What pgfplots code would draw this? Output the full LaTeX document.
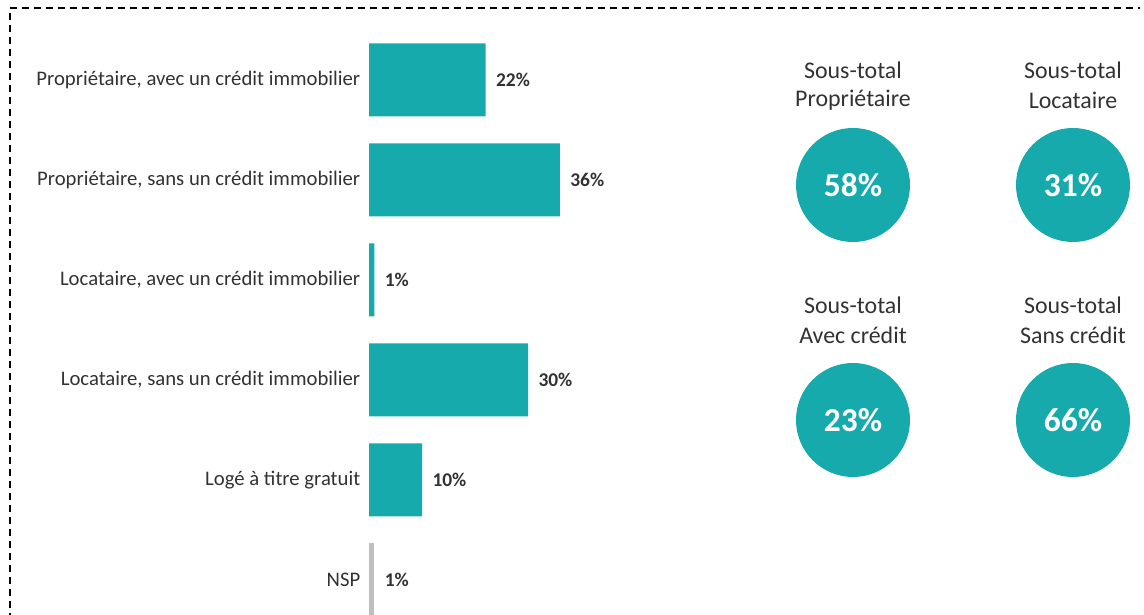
\documentclass[border=0pt]{standalone}
\usepackage{fontspec}
\setmainfont{Carlito}
\usepackage{pgfplots}
\pgfplotsset{compat=1.18}
\definecolor{tealbar}{RGB}{23,170,172}
\definecolor{nspgray}{RGB}{191,191,191}
\definecolor{labelgray}{RGB}{50,50,50}

\begin{document}
\begin{tikzpicture}[x=1bp,y=1bp]
  \useasboundingbox (0,0) rectangle (1144,615);
  % dashed frame (top and left visible)
  \draw[line width=1.3bp, dash pattern=on 7bp off 5bp] (10,-5) -- (10,607) -- (1140,607);

  \begin{axis}[
    at={(369bp,585bp)}, anchor=north west,
    scale only axis, width=530bp, height=600bp,
    xbar, bar width=73bp, bar shift=0pt,
    xmin=0, xmax=100, ymin=-0.5, ymax=5.5, y dir=reverse,
    axis line style={draw=none}, tick style={draw=none},
    xtick=\empty, ytick={0,...,5},
    yticklabels={{Propriétaire, avec un crédit immobilier},
                 {Propriétaire, sans un crédit immobilier},
                 {Locataire, avec un crédit immobilier},
                 {Locataire, sans un crédit immobilier},
                 {Logé à titre gratuit}, {NSP}},
    yticklabel style={font=\fontsize{20.8}{24}\selectfont, text=labelgray, xshift=-1bp},
    point meta=x,
    /pgf/number format/assume math mode=true,
    nodes near coords={\pgfmathprintnumber\pgfplotspointmeta\%},
    nodes near coords style={font=\bfseries\fontsize{19.5}{23}\selectfont, text=labelgray, xshift=7bp},
    clip=false,
  ]
    \addplot[fill=tealbar, draw=none] coordinates {(22,0) (36,1) (1,2) (30,3) (10,4)};
    \addplot[fill=nspgray, draw=none] coordinates {(1,5)};
  \end{axis}

  % subtotal circles
  \foreach \cx/\cy/\la/\lb/\v in {853/430/Sous-total/Propriétaire/58,
                                  1073/430/Sous-total/Locataire/31,
                                  853/195/Sous-total/Avec crédit/23,
                                  1073/195/Sous-total/Sans crédit/66} {
    \fill[tealbar] (\cx,\cy) circle (57);
    \node[text=white, font=\bfseries\fontsize{33.5}{40}\selectfont] at (\cx,\cy) {\v\%};
    \node[text=labelgray, font=\fontsize{24}{28}\selectfont] at (\cx,\cy+115) {\la};
    \node[text=labelgray, font=\fontsize{24}{28}\selectfont] at (\cx,\cy+85) {\lb};
  }
\end{tikzpicture}
\end{document}
